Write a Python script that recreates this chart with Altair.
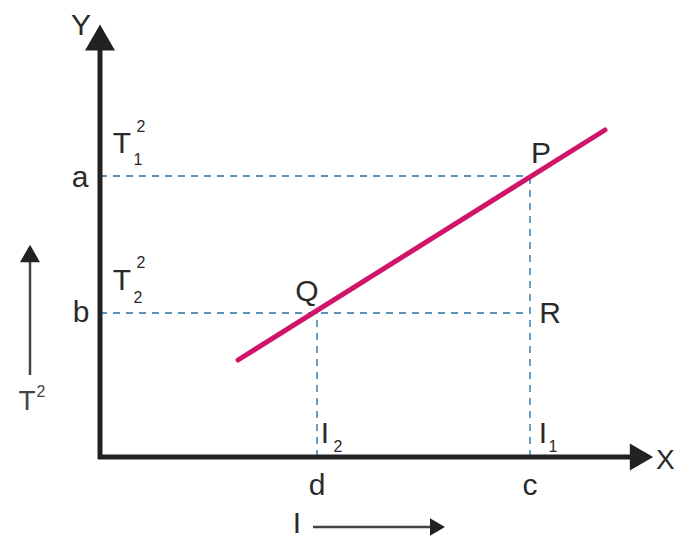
import altair as alt
import pandas as pd

# Diagram units: origin O at (0, 0); one unit ~ one pixel of the reference.
# Key values
a_level = 281          # T1^2 level on the Y axis
b_level = 144          # T2^2 level on the Y axis
c_pos = 430            # I1 position on the X axis
d_pos = 217            # I2 position on the X axis
line_x = [138, 505]    # straight-line graph end points
line_y = [97, 327]

# Axis extents (lines) and arrowhead centres
x_axis_end = 535
y_axis_end = 412
axis_head_x = [0, 541.5]
axis_head_y = [419.5, 0]
axis_head_shape = ["triangle-up", "triangle-right"]

# Small indicator arrows (T^2 upward, I rightward)
ind_x = [-70, 213]
ind_y = [82, -70]
ind_x2 = [-70, 332]
ind_y2 = [200, -70]
ind_head_x = [-70, 337.5]
ind_head_y = [203.5, -70]
ind_head_shape = ["triangle-up", "triangle-right"]

# Labels (main letters)
big_text = ["Y", "a", "b", "T", "T", "P", "Q", "R", "I", "I", "d", "c", "I"]
big_x = [-19, -20, -19, 22, 22, 441, 207, 450, 225, 443, 217, 430, 197]
big_y = [422, 270, 135, 304, 167, 294, 156, 134, 14, 14, -38, -38, -76]

# X-axis name (left aligned, at the right edge)
xname_x = [556]
xname_y = [-12]

# Superscripts / subscripts
small_text = ["2", "1", "2", "2", "2", "1"]
small_x = [41, 38, 41, 38, 238, 453]
small_y = [325, 292, 189, 154, 5, 5]

# Left "T²" indicator label
side_text = ["T", "2"]
side_x = [-73, -59]
side_y = [47, 60]
side_size = [28, 16]

X = alt.Scale(domain=[-92, 575], nice=False, zero=False)
Y = alt.Scale(domain=[-83, 449], nice=False, zero=False)

def xq(f="x"):
    return alt.X(f"{f}:Q", scale=X, axis=None)

def yq(f="y"):
    return alt.Y(f"{f}:Q", scale=Y, axis=None)

FONT = "Liberation Sans"
INK = "#2a2a2a"

axes_df = pd.DataFrame({"x": [-2, 0], "y": [0, -2], "x2": [x_axis_end, 0], "y2": [0, y_axis_end]})
axes = alt.Chart(axes_df).mark_rule(color="#222222", strokeWidth=5, strokeCap="butt").encode(
    x=xq(), y=yq(), x2="x2:Q", y2="y2:Q")

dash_df = pd.DataFrame({
    "x": [0, 0, c_pos, d_pos],
    "y": [a_level, b_level, 0, 0],
    "x2": [c_pos, c_pos, c_pos, d_pos],
    "y2": [a_level, b_level, a_level, b_level],
})
dashes = alt.Chart(dash_df).mark_rule(color="#5b93b8", strokeWidth=1.8, strokeDash=[7, 6]).encode(
    x=xq(), y=yq(), x2="x2:Q", y2="y2:Q")

line_df = pd.DataFrame({"x": line_x, "y": line_y})
graph = alt.Chart(line_df).mark_line(color="#d0146a", strokeWidth=5, strokeCap="round").encode(
    x=xq(), y=yq())

heads_df = pd.DataFrame({"x": axis_head_x, "y": axis_head_y, "shape": axis_head_shape, "s": [900, 729]})
heads = alt.Chart(heads_df).mark_point(filled=True, opacity=1, color="#222222", strokeWidth=0).encode(
    x=xq(), y=yq(), shape=alt.Shape("shape:N", scale=None), size=alt.Size("s:Q", scale=None))

ind_df = pd.DataFrame({"x": ind_x, "y": ind_y, "x2": ind_x2, "y2": ind_y2})
ind = alt.Chart(ind_df).mark_rule(color="#444444", strokeWidth=2.5).encode(
    x=xq(), y=yq(), x2="x2:Q", y2="y2:Q")

ind_heads_df = pd.DataFrame({"x": ind_head_x, "y": ind_head_y, "shape": ind_head_shape, "s": [400, 300]})
ind_heads = alt.Chart(ind_heads_df).mark_point(filled=True, opacity=1, color="#222222", strokeWidth=0).encode(
    x=xq(), y=yq(), shape=alt.Shape("shape:N", scale=None), size=alt.Size("s:Q", scale=None))

big_df = pd.DataFrame({"t": big_text, "x": big_x, "y": big_y})
big = alt.Chart(big_df).mark_text(font=FONT, fontSize=30, color=INK, align="center",
                                  baseline="alphabetic").encode(x=xq(), y=yq(), text="t:N")

xname_df = pd.DataFrame({"t": ["X"], "x": xname_x, "y": xname_y})
xname = alt.Chart(xname_df).mark_text(font=FONT, fontSize=28, color=INK, align="left",
                                      baseline="alphabetic").encode(x=xq(), y=yq(), text="t:N")

small_df = pd.DataFrame({"t": small_text, "x": small_x, "y": small_y})
small = alt.Chart(small_df).mark_text(font=FONT, fontSize=16, color=INK, align="center",
                                      baseline="alphabetic").encode(x=xq(), y=yq(), text="t:N")

side_df = pd.DataFrame({"t": side_text, "x": side_x, "y": side_y, "fs": side_size})
side = alt.Chart(side_df).mark_text(font=FONT, color="#444444", align="center",
                                    baseline="alphabetic").encode(
    x=xq(), y=yq(), text="t:N", size=alt.Size("fs:Q", scale=None))

chart = alt.layer(dashes, graph, axes, heads, ind, ind_heads, big, xname, small, side).properties(
    width=667, height=532, autosize=alt.AutoSizeParams(type="none"), padding=0,
    background="white"
).configure_view(stroke=None)

chart.save("out.html", embed_options={"renderer": "svg", "actions": False})
